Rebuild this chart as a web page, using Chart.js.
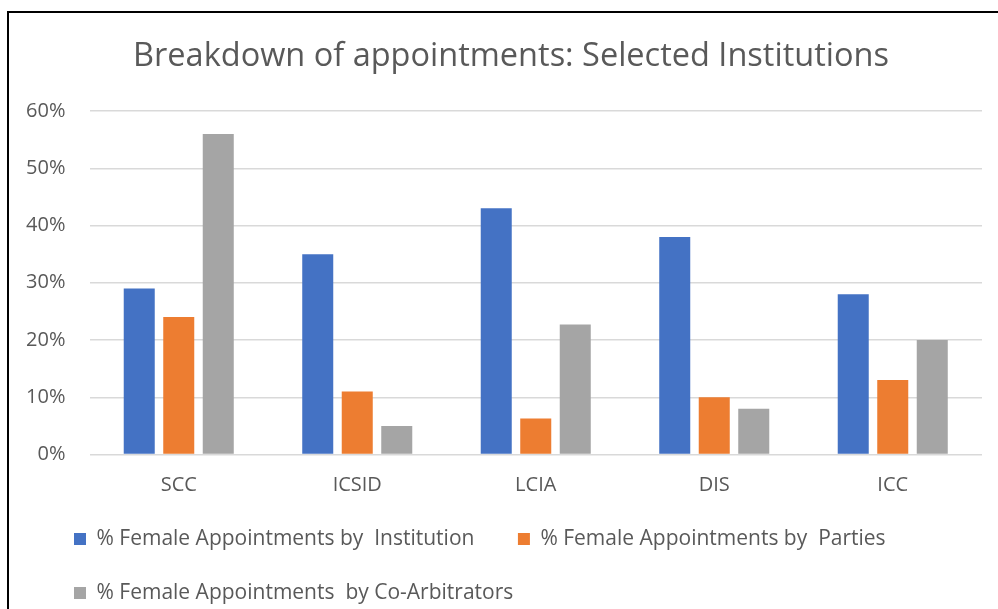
<!DOCTYPE html>
<html>
<head>
<meta charset="utf-8">
<script src="https://cdn.jsdelivr.net/npm/chart.js@4.4.1/dist/chart.umd.min.js"></script>
<style>
  html, body { margin: 0; padding: 0; background: #fff; overflow: hidden; }
  #frame { position: absolute; left: 7px; top: 11px; width: 1100px; height: 700px;
           border-left: 2px solid #000; border-top: 2px solid #000; box-sizing: border-box; }
  #c { position: absolute; left: 0; top: 0; }
</style>
</head>
<body>
<div id="frame"></div>
<canvas id="c" width="998" height="640"></canvas>
<script>
const chartTitle = 'Breakdown of appointments: Selected Institutions';
const categories = ['SCC', 'ICSID', 'LCIA', 'DIS', 'ICC'];
const seriesNames = [
  '% Female Appointments by  Institution',
  '% Female Appointments by  Parties',
  '% Female Appointments  by Co-Arbitrators'
];
const byInstitution = [0.29, 0.35, 0.43, 0.38, 0.28];
const byParties = [0.24, 0.11, 0.063, 0.10, 0.13];
const byCoArbitrators = [0.56, 0.05, 0.227, 0.08, 0.20];
const seriesColors = ['#4472C4', '#ED7D31', '#A5A5A5'];
const yTickLabels = ['0%', '10%', '20%', '30%', '40%', '50%', '60%'];

const FONT = '"Open Sans", "Noto Sans", sans-serif';
const TEXT = '#595959';

const boxShift = {
  id: 'boxShift',
  afterLayout(chart) {
    const lg = chart.legend;
    if (lg) {
      const dx = 41 - lg.left;
      lg.left += dx;
      lg.right += dx;
    }
    const tb = chart.titleBlock;
    if (tb) {
      tb.left += 7;
      tb.right += 7;
    }
  }
};

new Chart(document.getElementById('c'), {
  type: 'bar',
  data: {
    labels: categories,
    datasets: [byInstitution, byParties, byCoArbitrators].map((d, i) => ({
      label: seriesNames[i],
      data: d,
      backgroundColor: seriesColors[i],
      borderWidth: 0,
      categoryPercentage: 0.664,
      barPercentage: 0.785
    }))
  },
  options: {
    responsive: false,
    devicePixelRatio: 1,
    animation: false,
    layout: { padding: { left: 26, right: 16, top: 0, bottom: 26.5 } },
    plugins: {
      title: {
        display: true,
        text: chartTitle,
        color: TEXT,
        font: { family: FONT, size: 32.5, weight: 'normal', lineHeight: 1.2 },
        padding: { top: 37.5, bottom: 34.5 }
      },
      legend: {
        position: 'bottom',
        align: 'start',
        labels: {
          color: TEXT,
          font: { family: FONT, size: 21 },
          boxWidth: 12,
          boxHeight: 12,
          padding: 33,
          generateLabels(chart) {
            const items = Chart.defaults.plugins.legend.labels.generateLabels(chart);
            items.forEach(it => { it.text = it.text + '\u2002'; it.lineWidth = 0; });
            return items;
          }
        }
      },
      tooltip: { enabled: false }
    },
    scales: {
      x: {
        grid: { display: false },
        border: { display: false },
        ticks: { color: TEXT, font: { family: FONT, size: 20 }, padding: 11 },
        afterFit(scale) { scale.height = 41; }
      },
      y: {
        min: 0,
        max: 0.6,
        ticks: {
          stepSize: 0.1,
          color: TEXT,
          font: { family: FONT, size: 20 },
          padding: 24,
          callback: (v, i) => yTickLabels[i]
        },
        grid: { color: '#D9D9D9', lineWidth: 1.5, drawTicks: false },
        border: { display: false },
        afterFit(scale) { scale.width = 63.5; }
      }
    }
  },
  plugins: [boxShift]
});
</script>
</body>
</html>
